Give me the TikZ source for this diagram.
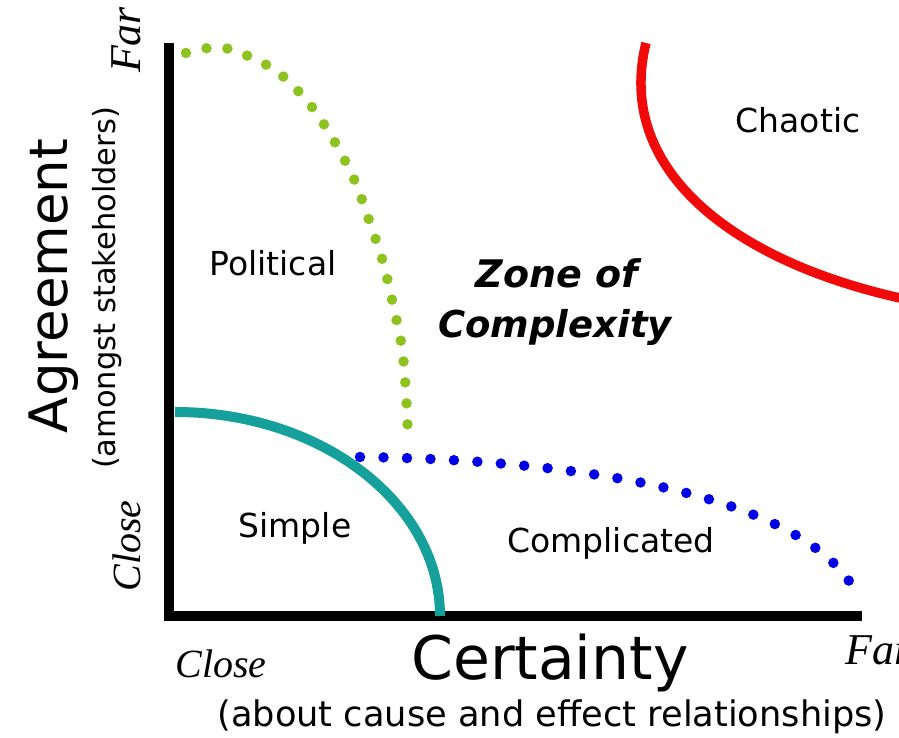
\documentclass[tikz,border=0pt]{standalone}
\usepackage{fontspec}
\setmainfont{DejaVu Sans}
\newfontfamily\farfont{Liberation Serif}
\usetikzlibrary{positioning,calc}

\definecolor{polgreen}{RGB}{141,194,31}
\definecolor{cplblue}{RGB}{0,0,230}
\definecolor{chaosred}{RGB}{240,10,10}
\definecolor{simpteal}{RGB}{22,160,155}

\begin{document}
\begin{tikzpicture}[x=1pt,y=1pt,
    axis line/.style={line width=10pt,line join=miter},
    dot line/.style={line width=10.5pt,line cap=round,dash pattern=on 0pt off 21pt},
    zone label/.style={font=\fontsize{33}{36}\selectfont,anchor=base,inner sep=0pt},
    end label/.style={font=\farfont\itshape\fontsize{40}{42}\selectfont,inner sep=0pt}]

    \useasboundingbox (0,0) rectangle (899,738);

    % axes
    \coordinate (top) at (169,695);
    \coordinate (origin) at (169,122);
    \coordinate (right) at (862,122);
    \draw[axis line] (top) -- (origin) -- (right);

    % boundaries
    \draw[dot line,polgreen] plot[smooth] coordinates {(186,685) (209,690) (233,688) (275,668) (308,636) (333,599) (354,559) (369,518) (383,476) (393,434) (402,390) (406,345) (408,300)};
    \coordinate (b1) at (360,281);
    \coordinate (b2) at (853,151);
    \draw[dot line,cplblue,dash pattern=on 0pt off 23.5pt] (b1) .. controls (600,278) and (800,238) .. (b2);
    \draw[line width=10pt,simpteal] (175,326) arc[start angle=90,end angle=0,x radius=265,y radius=204];
    \coordinate (c1) at (646,695);
    \coordinate (c2) at (900,440);
    \draw[line width=9.5pt,chaosred] (c1) .. controls (615,570) and (730,478) .. (c2);

    % domain names
    \node[zone label] (political) at (273,462) {Political};
    \node[zone label] (chaotic) at (798,605) {Chaotic};
    \node[zone label] (simple) at (295,200) {Simple};
    \node[zone label] (complicated) at (611,185) {Complicated};
    \node[zone label,font=\bfseries\itshape\fontsize{38}{40}\selectfont] (zone) at (557,450) {Zone of};
    \node[zone label,font=\bfseries\itshape\fontsize{37}{40}\selectfont] (complexity) at (555,400) {Complexity};

    % axis titles
    \node[anchor=base,inner sep=0pt,rotate=90,font=\fontsize{53}{56}\selectfont] (agree) at (67,452) {Agreement};
    \node[anchor=base,inner sep=0pt,rotate=90,font=\fontsize{30.5}{33}\selectfont] (among) at (115,450) {(amongst stakeholders)};
    \node[anchor=base,inner sep=0pt,font=\fontsize{60}{64}\selectfont] (certainty) at (550,58) {Certainty};
    \node[anchor=base,inner sep=0pt,font=\fontsize{35.2}{37}\selectfont] (cause) at (552,11) {(about cause and effect relationships)};

    % ends of the axes
    \node[end label,anchor=base,rotate=90,font=\farfont\itshape\fontsize{44}{46}\selectfont] (farY) at (140,698) {Far};
    \node[end label,anchor=base,rotate=90] (closeY) at (140,192) {Close};
    \node[end label,anchor=base] (closeX) at (221,60) {Close};
    \node[end label,anchor=base west,font=\farfont\itshape\fontsize{44}{46}\selectfont] (farX) at (845,73) {Far};
\end{tikzpicture}
\end{document}
